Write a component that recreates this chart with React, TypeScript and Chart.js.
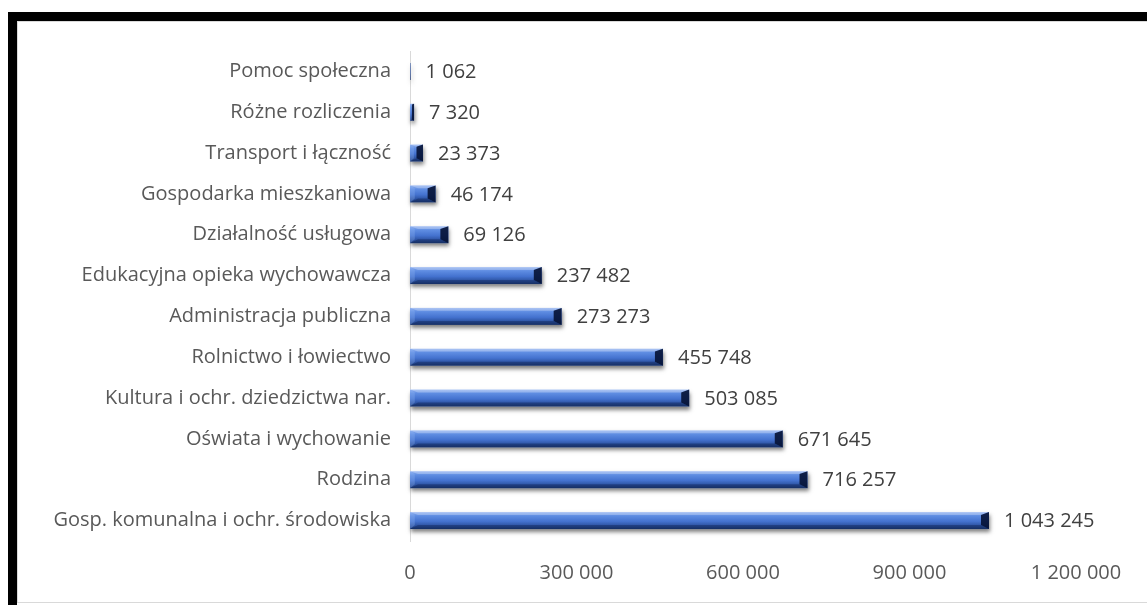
import React, { useEffect, useRef } from "react";
import { Chart, registerables } from "chart.js";

Chart.register(...registerables);

const categories = [
  "Pomoc społeczna",
  "Różne rozliczenia",
  "Transport i łączność",
  "Gospodarka mieszkaniowa",
  "Działalność usługowa",
  "Edukacyjna opieka wychowawcza",
  "Administracja publiczna",
  "Rolnictwo i łowiectwo",
  "Kultura i ochr. dziedzictwa nar.",
  "Oświata i wychowanie",
  "Rodzina",
  "Gosp. komunalna i ochr. środowiska",
];

const values = [1062, 7320, 23373, 46174, 69126, 237482, 273273, 455748, 503085, 671645, 716257, 1043245];

const axisMax = 1200000;
const axisStep = 300000;

const FONT = "'Open Sans', Lato, sans-serif";

function fmt(n: number): string {
  const s = Math.round(n).toString();
  return s.replace(/\B(?=(\d{3})+(?!\d))/g, " ");
}

const bevelPlugin = {
  id: "bevel",
  beforeDatasetsDraw(chart: any) {
    const ctx = chart.ctx;
    const meta = chart.getDatasetMeta(0);
    ctx.save();
    meta.data.forEach((el: any) => {
      const l = Math.min(el.base, el.x);
      const r = Math.max(el.base, el.x);
      const t = el.y - el.height / 2;
      const h = el.height;
      if (r - l < 0.5) return;
      ctx.shadowColor = "rgba(0,0,0,0.5)";
      ctx.shadowBlur = 4;
      ctx.shadowOffsetX = 1;
      ctx.shadowOffsetY = 3;
      ctx.fillStyle = "#ffffff";
      ctx.fillRect(l, t, r - l, h);
    });
    ctx.restore();
  },
  afterDatasetsDraw(chart: any) {
    const ctx = chart.ctx;
    const meta = chart.getDatasetMeta(0);
    ctx.save();
    meta.data.forEach((el: any, i: number) => {
      const l = Math.min(el.base, el.x);
      const r = Math.max(el.base, el.x);
      const t = el.y - el.height / 2;
      const btm = el.y + el.height / 2;
      const w = r - l;
      const h = btm - t;
      if (w > 0.5) {
        const g = ctx.createLinearGradient(0, t, 0, btm);
        g.addColorStop(0, "#8fb0f0");
        g.addColorStop(0.22, "#5f8de2");
        g.addColorStop(0.55, "#4472cf");
        g.addColorStop(0.8, "#2d53a2");
        g.addColorStop(1, "#1d3a75");
        ctx.fillStyle = g;
        ctx.fillRect(l, t, w, h);
        const b = Math.min(8, w / 2, h / 2);
        // top
        ctx.fillStyle = "rgba(255,255,255,0.25)";
        ctx.beginPath();
        ctx.moveTo(l, t); ctx.lineTo(r, t); ctx.lineTo(r - b, t + b * 0.35); ctx.lineTo(l + b, t + b * 0.35); ctx.closePath();
        ctx.fill();
        // bottom
        ctx.fillStyle = "rgba(10,25,70,0.35)";
        ctx.beginPath();
        ctx.moveTo(l, btm); ctx.lineTo(r, btm); ctx.lineTo(r - b, btm - b * 0.5); ctx.lineTo(l + b, btm - b * 0.5); ctx.closePath();
        ctx.fill();
        // left
        ctx.fillStyle = "rgba(150,185,245,0.3)";
        ctx.beginPath();
        ctx.moveTo(l, t); ctx.lineTo(l + b * 0.6, t + b * 0.35); ctx.lineTo(l + b * 0.6, btm - b * 0.5); ctx.lineTo(l, btm); ctx.closePath();
        ctx.fill();
        // right
        ctx.fillStyle = "rgba(6,18,52,0.9)";
        ctx.beginPath();
        ctx.moveTo(r, t); ctx.lineTo(r - b, t + b * 0.35); ctx.lineTo(r - b, btm - b * 0.5); ctx.lineTo(r, btm); ctx.closePath();
        ctx.fill();
      }
      // value label
      ctx.fillStyle = "#404040";
      ctx.font = `20px ${FONT}`;
      ctx.textAlign = "left";
      ctx.textBaseline = "middle";
      ctx.fillText(fmt(values[i]), r + 15, el.y + 1);
    });
    ctx.restore();
  },
};

export default function App() {
  const ref = useRef<HTMLCanvasElement | null>(null);

  useEffect(() => {
    if (!ref.current) return;
    const chart = new Chart(ref.current, {
      type: "bar",
      data: {
        labels: categories,
        datasets: [
          {
            data: values,
            backgroundColor: "rgba(0,0,0,0)",
            borderWidth: 0,
            barThickness: 17,
          },
        ],
      },
      options: {
        animation: false,
        responsive: false,
        indexAxis: "y",
        events: [],
        layout: { padding: { top: 51, right: 71, bottom: 0, left: 0 } },
        plugins: {
          legend: { display: false },
          tooltip: { enabled: false },
        },
        scales: {
          x: {
            min: 0,
            max: axisMax,
            grid: { display: false, drawTicks: false },
            border: { display: false },
            afterFit: (s: any) => {
              s.height = 64;
            },
            ticks: {
              stepSize: axisStep,
              color: "#595959",
              padding: 20,
              font: { family: FONT, size: 20 },
              callback: (v: any) => fmt(Number(v)),
              maxRotation: 0,
            },
          },
          y: {
            grid: { display: false, drawTicks: false },
            border: { display: true, color: "#d9d9d9", width: 1 },
            afterFit: (s: any) => {
              s.width = 410;
            },
            ticks: {
              color: "#595959",
              padding: 19,
              font: { family: FONT, size: 20 },
              autoSkip: false,
            },
          },
        },
      },
      plugins: [bevelPlugin],
    });
    return () => chart.destroy();
  }, []);

  return (
    <div>
      <div
        style={{
          position: "fixed",
          left: 8,
          top: 12,
          width: 1160,
          height: 593,
          boxSizing: "border-box",
          borderTop: "9px solid #000",
          borderLeft: "9px solid #000",
          background: "#fff",
        }}
      >
        <div
          style={{
            position: "absolute",
            left: 0,
            top: 0,
            width: 1160,
            height: 582,
            boxSizing: "border-box",
            border: "1px solid #d9d9d9",
          }}
        />
      </div>
      <canvas
        ref={ref}
        width={1147}
        height={605}
        style={{ position: "fixed", left: 0, top: 0, width: 1147, height: 605 }}
      />
    </div>
  );
}
